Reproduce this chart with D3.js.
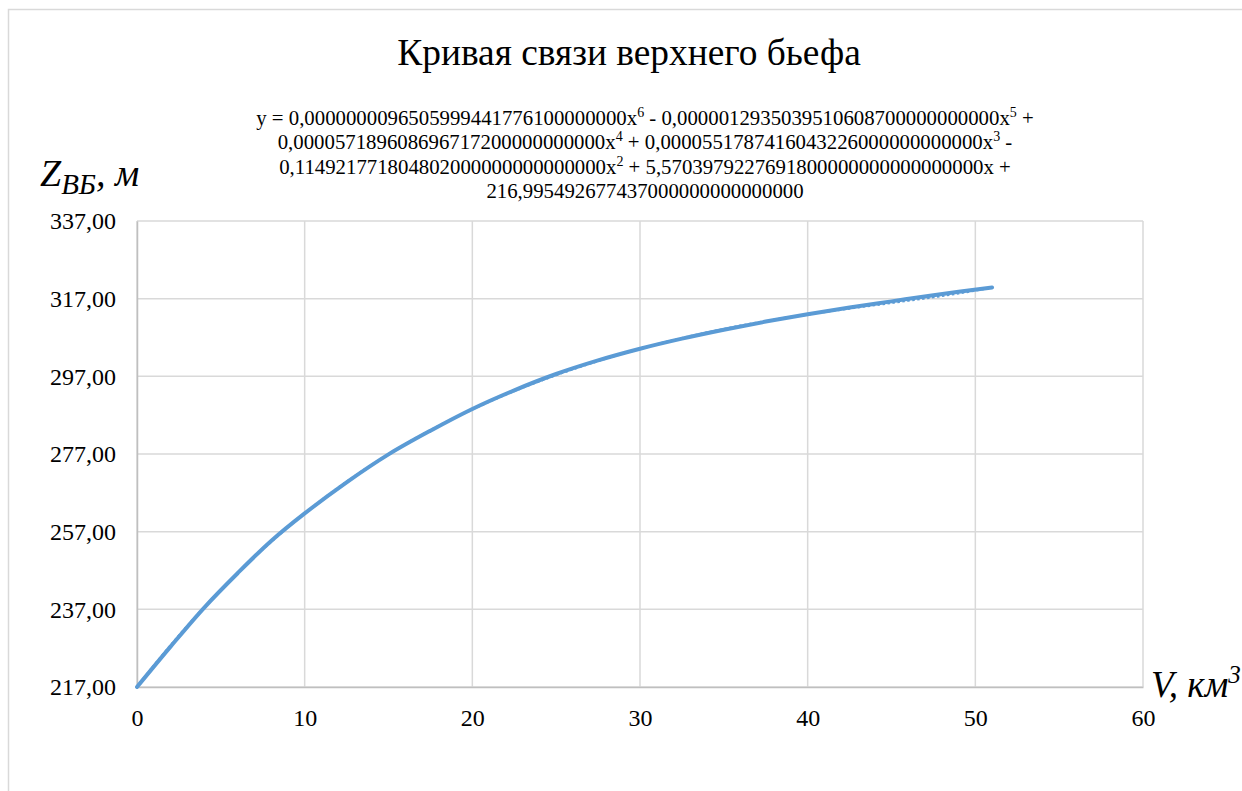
<!DOCTYPE html>
<html>
<head>
<meta charset="utf-8">
<script src="https://cdn.jsdelivr.net/npm/d3@7"></script>
<style>
  html, body { margin: 0; padding: 0; background: #fff; }
  svg { display: block; }
  .serif { font-family: "Liberation Serif"; }
</style>
</head>
<body>
<svg id="chart" width="1242" height="791"></svg>
<script>
// Reservoir volume V (km³) and upstream level Z (m)
const volume = [0, 2, 4, 6, 8, 10, 12.5, 15, 17.5, 20, 22.5, 25, 27.5, 30, 32.5, 35, 37.5, 40, 42.5, 45, 47.5, 51];
const level  = [217.0, 227.4, 237.4, 246.3, 254.6, 261.7, 269.7, 276.9, 283.0, 288.6, 293.4, 297.6, 301.1, 304.1, 306.7, 309.0, 311.1, 313.0, 314.7, 316.3, 317.9, 319.9];

// Polynomial trendline coefficients, from x^6 down to the constant term
const trendCoefs = [
  0.0000000096505999441776,
  -0.00000129350395106087,
  0.0000571896086967172,
  0.0000551787416043226,
  -0.114921771804802,
  5.57039792276918,
  216.995492677437
];

const xTicks = [0, 10, 20, 30, 40, 50, 60];
const yTicks = [217, 237, 257, 277, 297, 317, 337];

const title = "Кривая связи верхнего бьефа";
const equationLines = [
  [["y = 0,0000000096505999441776100000000x", ""], ["6", "sup"], [" - 0,0000012935039510608700000000000x", ""], ["5", "sup"], [" +", ""]],
  [["0,000057189608696717200000000000x", ""], ["4", "sup"], [" + 0,0000551787416043226000000000000x", ""], ["3", "sup"], [" -", ""]],
  [["0,114921771804802000000000000000x", ""], ["2", "sup"], [" + 5,5703979227691800000000000000000x +", ""]],
  [["216,995492677437000000000000000", ""]]
];

const svg = d3.select("#chart");

// chart frame
svg.append("path")
  .attr("d", "M8.5,791 V9.5 H1242")
  .attr("fill", "none")
  .attr("stroke", "#d9d9d9")
  .attr("stroke-width", 1.5);

const plot = { left: 137, right: 1143, top: 221, bottom: 687 };

const x = d3.scaleLinear().domain([0, 60]).range([plot.left, plot.right]);
const y = d3.scaleLinear().domain([217, 337]).range([plot.bottom, plot.top]);

const fmtY = d => d.toFixed(2).replace(".", ",");

// gridlines
const grid = svg.append("g");
grid.selectAll("line.h").data(yTicks).join("line")
  .attr("class", "h")
  .attr("x1", plot.left).attr("x2", plot.right)
  .attr("y1", d => y(d)).attr("y2", d => y(d))
  .attr("stroke", "#d9d9d9").attr("stroke-width", 1.5);
grid.selectAll("line.v").data(xTicks).join("line")
  .attr("class", "v")
  .attr("y1", plot.top).attr("y2", plot.bottom)
  .attr("x1", d => x(d)).attr("x2", d => x(d))
  .attr("stroke", "#d9d9d9").attr("stroke-width", 1.5);

// axes
const yAxis = svg.append("g")
  .attr("transform", `translate(${plot.left},0)`)
  .call(d3.axisLeft(y).tickValues(yTicks).tickFormat(fmtY).tickSize(0).tickPadding(21));
yAxis.attr("font-family", "Liberation Serif").attr("font-size", 24);
yAxis.select(".domain").attr("stroke", "#bfbfbf").attr("stroke-width", 1.5);
yAxis.selectAll("text").attr("class", "serif").attr("fill", "#000");

const xAxis = svg.append("g")
  .attr("transform", `translate(0,${plot.bottom})`)
  .call(d3.axisBottom(x).tickValues(xTicks).tickFormat(d => String(d)).tickSize(0).tickPadding(22));
xAxis.attr("font-family", "Liberation Serif").attr("font-size", 24);
xAxis.select(".domain").attr("stroke", "#bfbfbf").attr("stroke-width", 1.5);
xAxis.selectAll("text").attr("class", "serif").attr("fill", "#000");

// data line
const pts = volume.map((v, i) => [v, level[i]]);
const line = d3.line().x(d => x(d[0])).y(d => y(d[1])).curve(d3.curveCatmullRom.alpha(0.5));
svg.append("path")
  .datum(pts)
  .attr("d", line)
  .attr("fill", "none")
  .attr("stroke", "#5b9bd5")
  .attr("stroke-width", 4)
  .attr("stroke-linecap", "round")
  .attr("stroke-linejoin", "round");

// polynomial trendline
const poly = v => trendCoefs.reduce((acc, c) => acc * v + c, 0);
const trendPts = d3.range(0, 51.001, 0.25).map(v => [v, poly(v)]);
svg.append("path")
  .datum(trendPts)
  .attr("d", d3.line().x(d => x(d[0])).y(d => y(d[1])))
  .attr("fill", "none")
  .attr("stroke", "#5b9bd5")
  .attr("stroke-width", 2.5)
  .attr("stroke-dasharray", "2.5,2.5");

// title
svg.append("text")
  .attr("class", "serif")
  .attr("x", 629).attr("y", 65)
  .attr("text-anchor", "middle")
  .attr("font-size", 37.4)
  .text(title);

// trendline equation
const eq = svg.append("text")
  .attr("class", "serif")
  .attr("text-anchor", "middle")
  .attr("font-size", 20.8);
equationLines.forEach((parts, i) => {
  const row = eq.append("tspan").attr("x", 645).attr("y", 124.5 + i * 24.5);
  let raised = false;
  parts.forEach(([t, kind]) => {
    if (kind === "sup") {
      row.append("tspan").attr("dy", -8).attr("font-size", 14).text(t);
      raised = true;
    } else {
      const s = row.append("tspan").text(t);
      if (raised) { s.attr("dy", 8); raised = false; }
    }
  });
});

// axis titles
const yt = svg.append("text")
  .attr("class", "serif")
  .attr("x", 40).attr("y", 186)
  .attr("font-size", 38).attr("font-style", "italic");
yt.append("tspan").text("Z");
yt.append("tspan").attr("dy", 8).attr("font-size", 29).text("ВБ");
yt.append("tspan").attr("dy", -8).text(", м");

const xt = svg.append("text")
  .attr("class", "serif")
  .attr("x", 1151).attr("y", 697)
  .attr("font-size", 37).attr("font-style", "italic");
xt.append("tspan").text("V, км");
xt.append("tspan").attr("dy", -14).attr("font-size", 25).text("3");
</script>
</body>
</html>
